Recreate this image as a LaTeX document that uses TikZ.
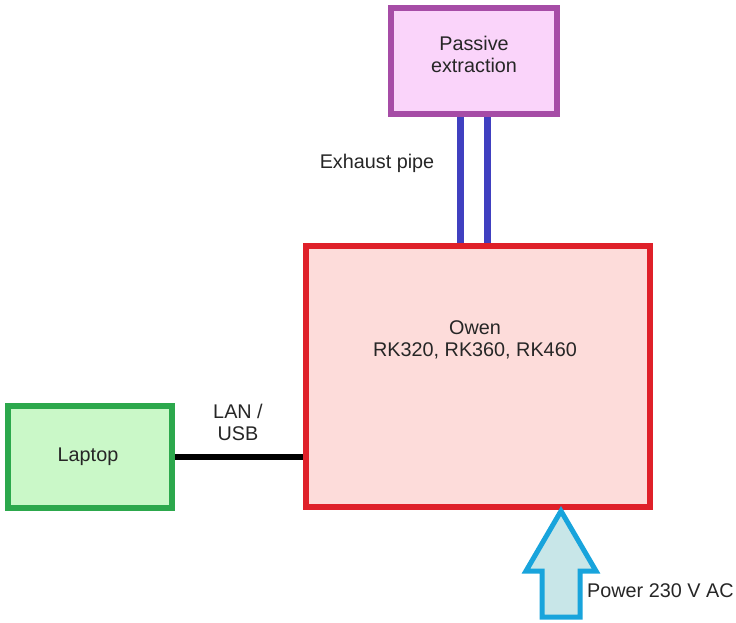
\documentclass[tikz,border=0pt]{standalone}
\usepackage{fontspec}
\setmainfont{Liberation Sans}
\definecolor{peFill}{HTML}{FAD4FA}
\definecolor{peDraw}{HTML}{A64CA6}
\definecolor{owFill}{HTML}{FDDCDA}
\definecolor{owDraw}{HTML}{DF2029}
\definecolor{lpFill}{HTML}{CAF8C8}
\definecolor{lpDraw}{HTML}{2CA84C}
\definecolor{pipeCol}{HTML}{4040C0}
\definecolor{pwFill}{HTML}{C8E6E8}
\definecolor{pwDraw}{HTML}{18A4DC}
\begin{document}
\begin{tikzpicture}[x=1pt,y=-1pt,
  every node/.style={font=\fontsize{19.8}{22}\selectfont, text=black!85},
  box/.style={draw, line width=6.5pt, inner sep=0pt},
  lbl/.style={align=center, inner sep=0pt}]
\useasboundingbox (0,0) rectangle (736,623);
% boxes
\node[box, fill=peFill, draw=peDraw, minimum width=166pt, minimum height=106pt] (pe) at (474,61) {};
\node[box, fill=owFill, draw=owDraw, minimum width=344pt, minimum height=261pt] (ow) at (478,376.5) {};
\node[box, fill=lpFill, draw=lpDraw, minimum width=164pt, minimum height=102pt] (lp) at (90,457) {};
% texts
\node[lbl] (petext) at (474,54) {Passive\\extraction};
\node[lbl] (owtext) at (475,340) {Owen\\RK320, RK360, RK460};
\node[lbl] (lptext) at (88,457) {Laptop};
\node[lbl] (lantext) at (238,422) {LAN /\\USB};
\node[lbl] (extext) at (377,163) {Exhaust pipe};
\node[lbl, anchor=west] (pwtext) at (587,591) {Power 230 V AC};
% pipes
\draw[pipeCol, line width=6.5pt] ([xshift=-13.5pt]pe.south) -- ([xshift=-17.5pt]ow.north);
\draw[pipeCol, line width=6.5pt] ([xshift=13.5pt]pe.south) -- ([xshift=9.5pt]ow.north);
% cable
\draw[black, line width=6pt] (lp.east) -- (ow.west |- lp.east);
% power arrow
\coordinate (tip) at (561,511);
\draw[pwDraw, fill=pwFill, line width=5pt, line join=miter]
  (tip) -- (526,571) -- (542,571) -- (542,617) -- (580,617) -- (580,571) -- (596,571) -- cycle;
\end{tikzpicture}
\end{document}
